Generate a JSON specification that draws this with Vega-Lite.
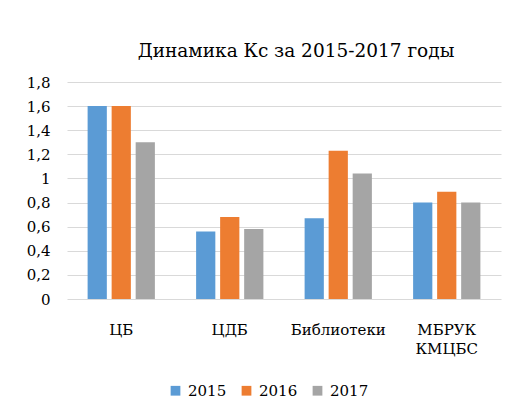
{
  "$schema": "https://vega.github.io/schema/vega-lite/v6.json",
  "width": 434,
  "height": 217,
  "autosize": {"type": "none"},
  "padding": {"left": 67, "top": 82, "right": 21, "bottom": 115},
  "background": "white",
  "title": {
    "text": "Динамика Кс за 2015-2017 годы",
    "font": "DejaVu Serif",
    "fontSize": 18.5,
    "fontWeight": "normal",
    "color": "#000000",
    "anchor": "middle",
    "dx": 12,
    "offset": 15
  },
  "data": {
    "values": [
      {"cat": "ЦБ", "year": "2015", "value": 1.6},
      {"cat": "ЦБ", "year": "2016", "value": 1.6},
      {"cat": "ЦБ", "year": "2017", "value": 1.3},
      {"cat": "ЦДБ", "year": "2015", "value": 0.56},
      {"cat": "ЦДБ", "year": "2016", "value": 0.68},
      {"cat": "ЦДБ", "year": "2017", "value": 0.58},
      {"cat": "Библиотеки", "year": "2015", "value": 0.67},
      {"cat": "Библиотеки", "year": "2016", "value": 1.23},
      {"cat": "Библиотеки", "year": "2017", "value": 1.04},
      {"cat": "МБРУК КМЦБС", "year": "2015", "value": 0.8},
      {"cat": "МБРУК КМЦБС", "year": "2016", "value": 0.89},
      {"cat": "МБРУК КМЦБС", "year": "2017", "value": 0.8}
    ]
  },
  "mark": {"type": "bar"},
  "encoding": {
    "x": {
      "field": "cat",
      "type": "nominal",
      "sort": null,
      "scale": {"paddingInner": 0.38, "paddingOuter": 0.19},
      "axis": {
        "title": null,
        "labelAngle": 0,
        "labelFont": "DejaVu Serif",
        "labelFontSize": 15,
        "labelColor": "#000000",
        "labelPadding": 23,
        "labelLineHeight": 19,
        "labelExpr": "split(datum.label, ' ')",
        "ticks": false,
        "domain": false
      }
    },
    "xOffset": {
      "field": "year",
      "type": "nominal",
      "scale": {"paddingInner": 0.2, "paddingOuter": 0}
    },
    "y": {
      "field": "value",
      "type": "quantitative",
      "scale": {"domain": [0, 1.8], "nice": false},
      "axis": {
        "title": null,
        "values": [0, 0.2, 0.4, 0.6, 0.8, 1, 1.2, 1.4, 1.6, 1.8],
        "labelExpr": "replace(format(datum.value, '~g'), '.', ',')",
        "labelFont": "DejaVu Serif",
        "labelFontSize": 15,
        "labelColor": "#000000",
        "labelPadding": 17,
        "ticks": false,
        "domain": false,
        "gridColor": "#d9d9d9",
        "gridWidth": 1
      }
    },
    "color": {
      "field": "year",
      "type": "nominal",
      "scale": {"domain": ["2015", "2016", "2017"], "range": ["#5b9bd5", "#ed7d31", "#a5a5a5"]},
      "legend": {
        "title": null,
        "orient": "none",
        "direction": "horizontal",
        "legendX": 101,
        "legendY": 301,
        "symbolType": "square",
        "symbolSize": 95,
        "symbolStrokeWidth": 0,
        "labelFont": "DejaVu Serif",
        "labelFontSize": 15,
        "labelColor": "#000000",
        "columnPadding": 12,
        "labelOffset": 5
      }
    }
  },
  "config": {"view": {"stroke": null}}
}
